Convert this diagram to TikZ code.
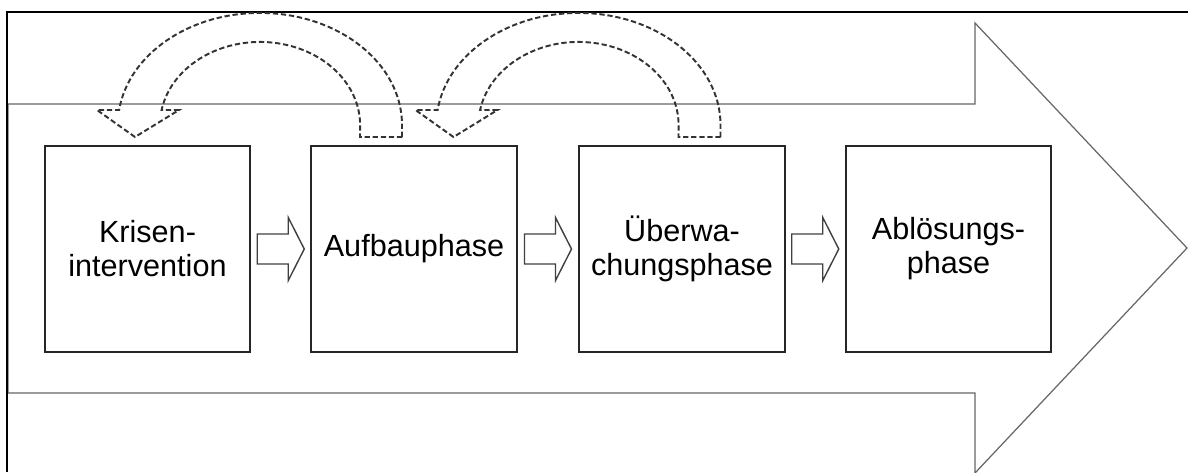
\documentclass[tikz,border=0pt]{standalone}
\usepackage{fontspec}
\setmainfont{Liberation Sans}
\usetikzlibrary{calc}
\begin{document}
\begin{tikzpicture}[x=0.01cm,y=0.01cm,
  phasebox/.style={draw=black!85,line width=0.55pt,minimum width=2.05cm,
    minimum height=2.06cm,inner sep=0pt,align=center,
    font=\fontsize{8.7}{9.7}\selectfont},
  bigarrow/.style={draw=black!60,line width=0.35pt},
  frameline/.style={draw=black,line width=0.6pt},
  smallarrow/.style={draw=black!75,line width=0.4pt},
  loopline/.style={draw=black!80,line width=0.55pt,dash pattern=on 1.5pt off 0.8pt},
  pics/blockarrow/.style={code={
    \draw[smallarrow] (-23.5,-15) -- (7.5,-15) -- (7.5,-31.5) -- (23.5,0)
      -- (7.5,31.5) -- (7.5,15) -- (-23.5,15) -- cycle;}},
  pics/uturn/.style={code={
    \draw[loopline] (142,-12) -- (142,0)
      arc[start angle=0,end angle=172.3,x radius=1.42cm,y radius=1.12cm]
      -- (-163,15) -- (-125,-12) -- (-81,15) -- (-98.4,15)
      arc[start angle=169.6,end angle=0,x radius=1.0cm,y radius=0.83cm]
      -- (100,-12) -- cycle;}}]
\useasboundingbox (0,0) rectangle (1188,472);

% large process arrow in the background
\draw[bigarrow] (8,368) -- (975,368) -- (975,449) -- (1187,224)
  -- (975,-1) -- (975,79) -- (8,79) -- cycle;

% outer frame
\draw[frameline] (7,0) -- (7,460) -- (1188,460);

% phases
\node[phasebox] (b1) at (147.5,223) {Krisen-\\intervention};
\node[phasebox] (b2) at (414,223) {Aufbauphase};
\node[phasebox] (b3) at (682,223) {Überwa-\\chungsphase};
\node[phasebox] (b4) at (948.5,223) {Ablösungs-\\phase};

% forward steps between phases
\pic at ($(b1.east)!0.5!(b2.west)$) {blockarrow};
\pic at ($(b2.east)!0.5!(b3.west)$) {blockarrow};
\pic at ($(b3.east)!0.5!(b4.west)$) {blockarrow};

% steps back to the previous phase
\pic at (260,347) {uturn};
\pic at (578.5,347) {uturn};
\end{tikzpicture}
\end{document}
